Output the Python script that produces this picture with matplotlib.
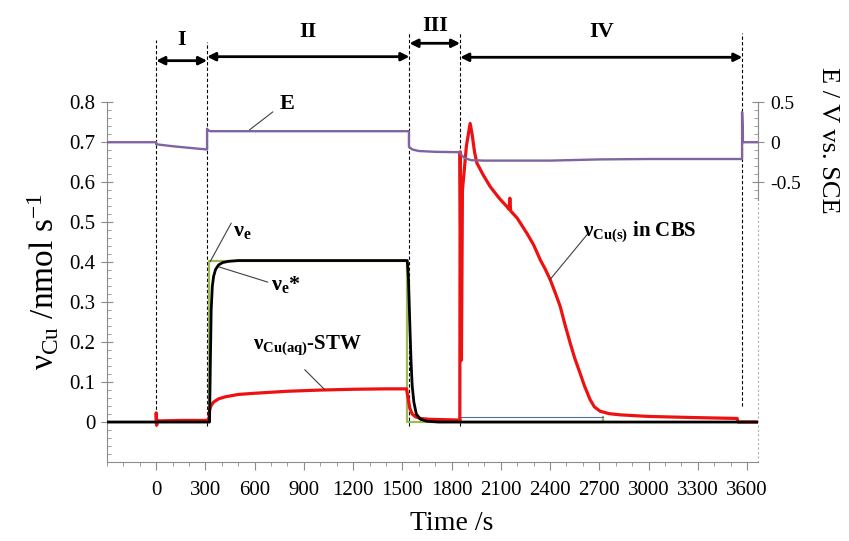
import numpy as np
import matplotlib
matplotlib.use('Agg')
import matplotlib.pyplot as plt
from matplotlib.ticker import MultipleLocator, FixedLocator, FuncFormatter

plt.rcParams['font.family'] = ['Liberation Serif', 'DejaVu Serif']
plt.rcParams['mathtext.fontset'] = 'custom'
plt.rcParams['mathtext.rm'] = 'Liberation Serif'
plt.rcParams['mathtext.it'] = 'Liberation Serif:italic'
plt.rcParams['mathtext.bf'] = 'Liberation Serif:bold'
plt.rcParams['axes.unicode_minus'] = False

# ν_e (set rate, green square step)
ve_t = [-300, 322, 322, 1527, 1527, 2725, 2725]
ve_v = [0, 0, 0.403, 0.403, 0, 0, 0.0115]

# thin blue baseline in stage IV
base_t = [1850, 2725]
base_v = [0.0115, 0.0115]

# ν_e* (black)
ves_t = [-300, 325, 330, 335, 342, 350, 362, 380, 405, 440, 500, 1530,
         1537, 1545, 1553, 1560, 1570, 1585, 1610, 1650, 1720, 3668]
ves_v = [0, 0, 0.15, 0.28, 0.34, 0.365, 0.382, 0.393, 0.399, 0.402, 0.404, 0.404,
         0.36, 0.25, 0.15, 0.09, 0.05, 0.02, 0.007, 0.002, 0.0, 0.0]

# ν_Cu(aq)-STW (red, stages I-III)
stw_t = [0, 0, 3, 6, 10, 30, 150, 300, 322, 325, 335, 350, 380, 420, 500, 600,
         800, 1000, 1200, 1400, 1525, 1535, 1545, 1560, 1580, 1610, 1660, 1750, 1850]
stw_v = [0, 0.023, -0.008, 0.004, 0.003, 0.003, 0.004, 0.004, 0.005, 0.03, 0.042,
         0.05, 0.058, 0.063, 0.069, 0.072, 0.077, 0.08, 0.082, 0.083, 0.083, 0.06,
         0.035, 0.02, 0.013, 0.009, 0.007, 0.006, 0.005]

# ν_Cu(s) in CBS (red, stage IV)
cbs_t = [1850, 1852, 1856, 1860, 1866, 1875, 1890, 1913, 1925, 1940, 1954, 1990,
         2035, 2090, 2137, 2150, 2155, 2160, 2200, 2259, 2300, 2340, 2370, 2401,
         2430, 2462, 2490, 2523, 2550, 2583, 2610, 2644, 2670, 2705, 2760, 2827,
         3000, 3300, 3540, 3545, 3668]
cbs_v = [0.005, 0.676, 0.4, 0.155, 0.58, 0.62, 0.69, 0.747, 0.72, 0.675, 0.648,
         0.62, 0.589, 0.56, 0.539, 0.532, 0.56, 0.528, 0.51, 0.472, 0.443, 0.406,
         0.383, 0.356, 0.325, 0.289, 0.245, 0.197, 0.16, 0.122, 0.09, 0.056, 0.038,
         0.027, 0.021, 0.018, 0.014, 0.011, 0.009, 0.0, 0.0]

# E / V vs SCE (purple, right axis)
e_t = [-300, 0, 0, 100, 200, 310, 310, 315, 330, 1540, 1540, 1560, 1600, 1700,
       1850, 1860, 1880, 1920, 2000, 2400, 2700, 3000, 3570, 3570, 3575, 3575, 3668]
e_v = [0, 0, -0.026, -0.05, -0.07, -0.091, 0.169, 0.15, 0.138, 0.138, -0.057,
       -0.09, -0.11, -0.12, -0.125, -0.16, -0.2, -0.225, -0.23, -0.23, -0.215,
       -0.21, -0.21, 0.377, 0.1, 0.0, 0.0]

stage_names = ['I', 'II', 'III', 'IV']
stage_edges = [0, 310, 1543, 1852, 3572]

gray = '#8c8c8c'
fig = plt.figure(figsize=(8.49, 5.41), dpi=100)
ax = fig.add_axes([0.126, 0.146, 0.767, 0.665])

ax.plot(ve_t, ve_v, color='#9bbb59', lw=1.6, zorder=2)
ax.plot(base_t, base_v, color='#4f6f99', lw=0.8, zorder=2)
ax.plot(stw_t, stw_v, color='#ee1111', lw=2.3, zorder=3)
ax.plot(cbs_t, cbs_v, color='#ee1111', lw=2.3, zorder=3)
ax.plot(ves_t, ves_v, color='black', lw=2.0, zorder=4)

ax.set_xlim(-300, 3668)
ax.set_ylim(-0.1, 0.8)
ax.xaxis.set_major_locator(FixedLocator(np.arange(0, 3601, 300)))
ax.xaxis.set_minor_locator(MultipleLocator(100))
ax.yaxis.set_major_locator(FixedLocator(np.arange(0, 0.81, 0.1)))
ax.yaxis.set_minor_locator(MultipleLocator(0.02))
ax.yaxis.set_major_formatter(FuncFormatter(lambda v, p: '%g' % round(v, 2)))
ax.tick_params(axis='x', which='major', direction='out', length=5.5, color=gray,
               labelsize=15, pad=8)
ax.tick_params(axis='x', which='minor', direction='out', length=3, color=gray)
ax.tick_params(axis='y', which='major', direction='inout', length=9, color=gray,
               labelsize=15, pad=4)
ax.tick_params(axis='y', which='minor', direction='in', length=3, color=gray)
for s in ['left', 'bottom']:
    ax.spines[s].set_color(gray)
ax.spines['top'].set_visible(False)
ax.spines['right'].set_color('#b0b0b0')
ax.spines['right'].set_linestyle((0, (1, 3)))

ax.set_xlabel('Time /s', fontsize=20, x=(1800 + 300) / 3968, labelpad=8)
ax.set_ylabel('ν$_{\\mathrm{Cu}}$ /nmol s$^{-1}$', fontsize=24, labelpad=6)

ax2 = ax.twinx()
ax2.plot(e_t, e_v, color='#8064a2', lw=1.7, zorder=3)
ax2.set_ylim(-4, 0.5)
ax2.yaxis.set_major_locator(FixedLocator([-0.5, 0, 0.5]))
ax2.yaxis.set_minor_locator(FixedLocator(np.arange(-0.7, 0.51, 0.1)))
ax2.yaxis.set_major_formatter(FuncFormatter(lambda v, p: '%g' % v))
ax2.tick_params(axis='y', which='major', direction='inout', length=9, color=gray,
                labelsize=14, pad=4)
ax2.tick_params(axis='y', which='minor', direction='in', length=3, color=gray)
for s in ['left', 'top', 'bottom']:
    ax2.spines[s].set_visible(False)
ax2.spines['right'].set_color(gray)
ax2.spines['right'].set_bounds(-0.72, 0.5)
fig.text(828 / 849, 1 - 140 / 541, 'E / V vs. SCE', rotation=-90, fontsize=19,
         ha='center', va='center')

# stage boundaries and arrows
tops = [0.956, 0.95, 0.972, 0.976, 0.972]
bots = [-0.01, -0.01, -0.01, -0.01, 0.04]
for x, t, b in zip(stage_edges, tops, bots):
    ax.plot([x, x], [b, t], color='black', lw=0.8, ls=(0, (3, 2)), clip_on=False,
            zorder=1)
arrow_y = [0.904, 0.914, 0.9475, 0.9125]
label_y = [0.956, 0.9765, 0.99, 0.975]
for i, name in enumerate(stage_names):
    x0, x1 = stage_edges[i], stage_edges[i + 1]
    ax.annotate('', xy=(x1, arrow_y[i]), xytext=(x0, arrow_y[i]),
                arrowprops=dict(arrowstyle='<|-|>', lw=2, color='black',
                                mutation_scale=12, shrinkA=0, shrinkB=0),
                annotation_clip=False)
    ax.text((x0 + x1) / 2, label_y[i], name, fontsize=16, fontweight='bold',
            ha='center', va='center', clip_on=False)

# curve labels with leader lines
lead = dict(arrowstyle='-', color='#404040', lw=0.8, shrinkA=0, shrinkB=0)
ax.annotate('', xy=(569, 0.731), xytext=(711, 0.776), arrowprops=lead)
ax.text(795, 0.796, 'E', fontsize=16, fontweight='bold', ha='center', va='center')

ax.annotate('', xy=(329, 0.4015), xytext=(457, 0.4975), arrowprops=lead)
ax.text(465, 0.478, 'ν$_{\\mathbf{e}}$', fontsize=16, fontweight='bold',
        ha='left', va='center')

ax.annotate('', xy=(375, 0.389), xytext=(680, 0.35), arrowprops=lead)
ax.text(700, 0.343, 'ν$_{\\mathbf{e}}$*', fontsize=16, fontweight='bold',
        ha='left', va='center')

ax.annotate('', xy=(1027, 0.081), xytext=(905, 0.131), arrowprops=lead)
ax.text(923, 0.193, 'ν$_{\\mathbf{Cu(aq)}}$-STW', fontsize=15, fontweight='bold',
        ha='center', va='center')

ax.annotate('', xy=(2399, 0.356), xytext=(2633, 0.4725), arrowprops=lead)
ax.text(2600, 0.476, 'ν$_{\\mathbf{Cu(s)}}$ in CBS', fontsize=15, fontweight='bold',
        ha='left', va='center')

fig.savefig('out.png', dpi=100)
